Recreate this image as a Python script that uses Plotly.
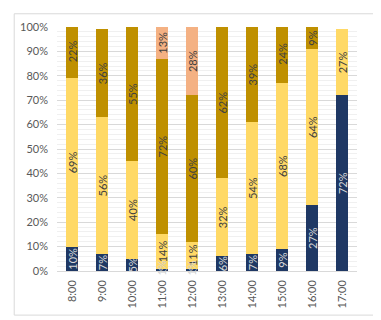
import plotly.graph_objects as go

hours = ["8:00", "9:00", "10:00", "11:00", "12:00", "13:00", "14:00", "15:00", "16:00", "17:00"]
navy = [0.10, 0.07, 0.05, 0.01, 0.01, 0.06, 0.07, 0.09, 0.27, 0.72]
light_yellow = [0.69, 0.56, 0.40, 0.14, 0.11, 0.32, 0.54, 0.68, 0.64, 0.27]
dark_gold = [0.22, 0.36, 0.55, 0.72, 0.60, 0.62, 0.39, 0.24, 0.09, None]
salmon = [None, None, None, 0.13, 0.28, None, None, None, None, None]

series = [
    ("Navy", navy, "#1F3864", "#D9D9D9"),
    ("Yellow", light_yellow, "#FFD966", "#404040"),
    ("Gold", dark_gold, "#BF9000", "#404040"),
    ("Salmon", salmon, "#F4B183", "#404040"),
]

FONT = "Lato, 'Open Sans', sans-serif"

# page has an 8px body margin; compensate in figure geometry
W, H = 373, 312
L, T, R, B = 44, 14, 24, 49
PW, PH = W - L - R, H - T - B

fig = go.Figure()
for name, vals, color, tcolor in series:
    fig.add_trace(go.Bar(
        name=name,
        x=hours,
        y=vals,
        marker=dict(color=color, line=dict(width=0)),
        text=[None if v is None else f"{round(v*100)}%" for v in vals],
        textposition="inside",
        insidetextanchor="middle",
        textangle=-90,
        constraintext="none",
        textfont=dict(color=tcolor, size=11, family=FONT),
        hoverinfo="skip",
    ))

# small segments whose labels overflow the bar
annotations = []
for h, v in zip(hours, navy):
    if v is not None and v < 0.02:
        annotations.append(dict(
            x=h, y=v / 2 + 0.005, xref="x", yref="y",
            text=f"{round(v*100)}%", showarrow=False, textangle=-90,
            font=dict(color="#D0D0D0", size=11, family=FONT),
        ))

fig.update_layout(
    barmode="stack",
    bargap=0.57,
    width=W,
    height=H,
    margin=dict(l=L, r=R, t=T, b=B),
    paper_bgcolor="white",
    plot_bgcolor="white",
    showlegend=False,
    font=dict(family=FONT, size=11, color="#595959"),
    xaxis=dict(
        type="category",
        tickangle=-90,
        showgrid=False,
        showline=False,
        ticks="",
        tickfont=dict(size=11, color="#595959"),
        ticklabelstandoff=6,
    ),
    yaxis=dict(
        range=[0, 1.0001],
        dtick=0.1,
        tickformat=".0%",
        showgrid=True,
        gridcolor="#D9D9D9",
        gridwidth=1,
        zeroline=True,
        zerolinecolor="#D9D9D9",
        zerolinewidth=1,
        showline=False,
        ticks="",
        tickfont=dict(size=11, color="#595959"),
        ticklabelstandoff=8,
        minor=dict(dtick=0.02, showgrid=True, gridcolor="#F0F0F0", gridwidth=1),
    ),
    annotations=annotations,
    shapes=[dict(
        type="rect", xref="paper", yref="paper",
        x0=(0.5 - L) / PW, x1=(367 - L) / PW,
        y0=(PH + T - 308) / PH, y1=(PH + T - 0.5) / PH,
        line=dict(color="#D9D9D9", width=1),
        fillcolor="rgba(0,0,0,0)",
        layer="above",
    )],
)

fig.write_html("out.html")
